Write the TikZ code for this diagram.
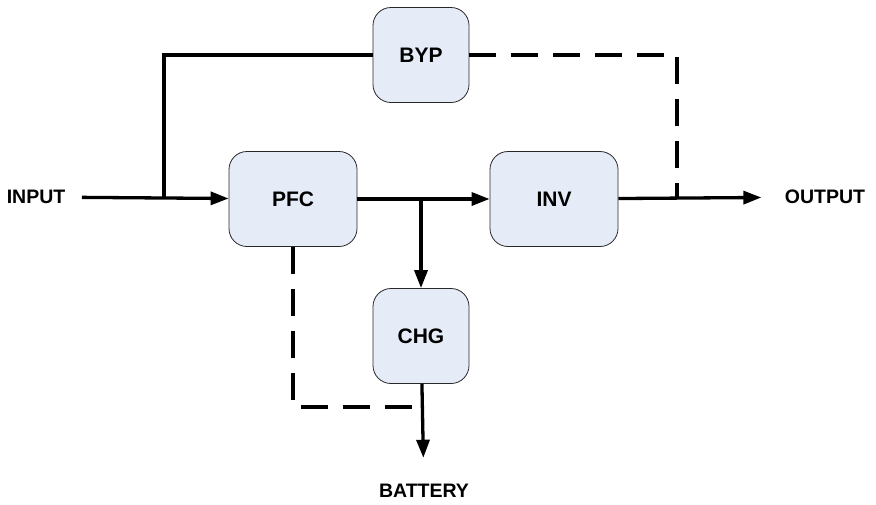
\documentclass[tikz,border=0pt]{standalone}
\usepackage{fontspec}
\setmainfont{Liberation Sans}
\usepackage{xcolor}
\usetikzlibrary{shapes.geometric, arrows, arrows.meta}
\definecolor{boxfill}{RGB}{230,236,247}
\definecolor{boxline}{RGB}{40,40,40}
\tikzstyle{block} = [rectangle, rounded corners=18pt, minimum width=96pt, minimum height=95pt, text centered, draw=boxline, line width=0.8pt, fill=boxfill, font=\fontsize{21}{25}\selectfont\bfseries]
\tikzstyle{wideblock} = [block, minimum width=128pt]
\tikzstyle{ioname} = [font=\fontsize{19.5}{23}\selectfont\bfseries]
\tikzstyle{wire} = [line width=3.3pt]
\tikzstyle{arrow} = [line width=3.3pt,->,>={Triangle[length=18pt,width=13pt]}]
\tikzstyle{dashwire} = [line width=3.3pt, dash pattern=on 27pt off 15pt]

\begin{document}
\begin{tikzpicture}[x=1pt, y=-1pt, node distance=128pt]
				\useasboundingbox (0,0) rectangle (876,504);
				
				% Nodes
				\node (pfc) [wideblock] at (293,199) {PFC};
				\node (inv) [wideblock, right of=pfc, xshift=133pt] {INV};
				\node (chg) [block, below of=pfc, xshift=128pt, yshift=-9pt] {CHG};
				\node (byp) [block, above of=pfc, xshift=128pt, yshift=16pt] {BYP};
				\node (input) [ioname, left of=pfc, xshift=-129pt, yshift=2pt] {INPUT};
				\node (output) [ioname, right of=inv, xshift=143pt, yshift=2pt] {OUTPUT};
				\node (battery) [ioname, below of=chg, xshift=3pt, yshift=-27pt] {BATTERY};
				\coordinate (split) at (164,199);
				\coordinate (tap) at (677,199);
				\coordinate (batjoin) at (421,407);
				
				% Arrows
				\draw [arrow, shorten <=13pt] (input) -- (pfc);
				\draw [wire] (split) |- (byp);
				\draw [dashwire] (byp) -| (tap);
				\draw [arrow] (pfc) -- (inv);
				\draw [arrow] (pfc -| chg) -- (chg);
				\draw [arrow, shorten >=20pt] (inv) -- (output);
				\draw [arrow, shorten >=23pt] (chg) -- (battery);
				\draw [dashwire] (pfc) |- (batjoin);
				
			\end{tikzpicture}
\end{document}
